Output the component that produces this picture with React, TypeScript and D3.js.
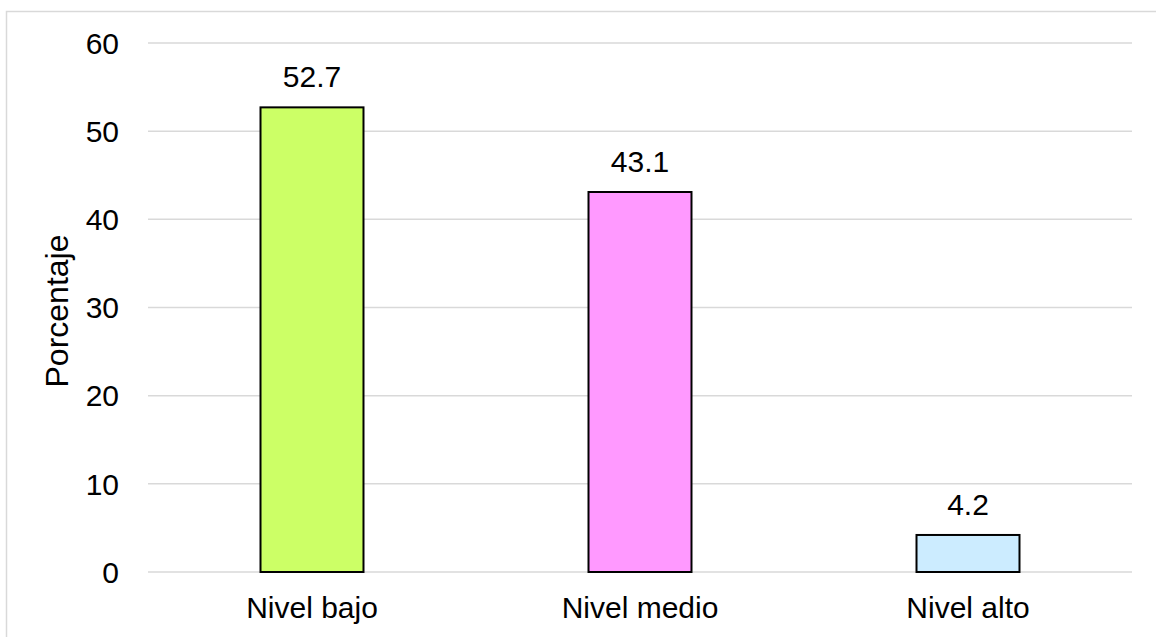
import React from "react";
import * as d3 from "d3";

const categories = ["Nivel bajo", "Nivel medio", "Nivel alto"];
const values = [52.7, 43.1, 4.2];
const colors = ["#CCFF66", "#FF99FF", "#CCECFF"];
const yTicks = [0, 10, 20, 30, 40, 50, 60];
const yLabel = "Porcentaje";

const W = 1156;
const H = 637;
const FONT = "'Liberation Sans', Arial, sans-serif";

export default function App() {
  const x = d3.scaleBand<string>().domain(categories).range([148, 1132]).paddingInner(0.686).paddingOuter(0.343);
  const y = d3.scaleLinear().domain([0, 60]).range([572, 43]);
  const fs = 30;
  return (
    <svg width={W} height={H} style={{ position: "absolute", left: 0, top: 0, background: "#fff" }} fontFamily={FONT}>
      <rect x={6.5} y={11.5} width={W + 20} height={H + 20} fill="#fff" stroke="#d9d9d9" strokeWidth={1.5} />
      {yTicks.map((t) => (
        <g key={t}>
          <line x1={148} x2={1132} y1={y(t)} y2={y(t)} stroke="#d9d9d9" strokeWidth={1.5} />
          <text x={119} y={y(t)} dy="0.36em" textAnchor="end" fontSize={fs} fill="#000">
            {t}
          </text>
        </g>
      ))}
      {categories.map((c, i) => (
        <g key={c}>
          <rect
            x={x(c)!}
            y={y(values[i])}
            width={x.bandwidth()}
            height={y(0) - y(values[i])}
            fill={colors[i]}
            stroke="#000"
            strokeWidth={2}
          />
          <text x={x(c)! + x.bandwidth() / 2} y={y(values[i]) - 20} textAnchor="middle" fontSize={fs} fill="#000">
            {values[i].toFixed(1)}
          </text>
          <text x={x(c)! + x.bandwidth() / 2} y={618} textAnchor="middle" fontSize={fs} fill="#000">
            {c}
          </text>
        </g>
      ))}
      <text transform={`translate(68,311) rotate(-90)`} textAnchor="middle" fontSize={32} fill="#000">
        {yLabel}
      </text>
    </svg>
  );
}
